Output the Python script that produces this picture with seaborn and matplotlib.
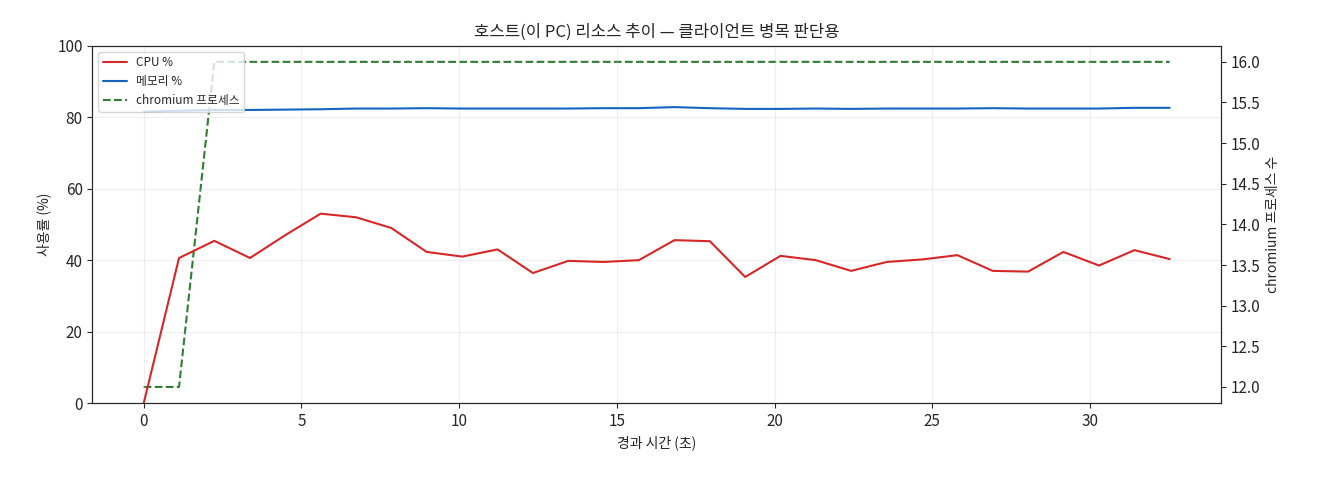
import numpy as np
import matplotlib
matplotlib.use("Agg")
import matplotlib.pyplot as plt
import seaborn as sns
import pandas as pd

sns.set_style("ticks")
plt.rcParams['font.family'] = ['Noto Sans CJK KR', 'DejaVu Sans']
plt.rcParams['axes.unicode_minus'] = False
plt.rcParams['font.size'] = 11

t = [0, 1.12, 2.24, 3.37, 4.49, 5.61, 6.73, 7.85, 8.97, 10.1, 11.22, 12.34, 13.46, 14.58, 15.7,
     16.83, 17.95, 19.07, 20.19, 21.31, 22.43, 23.56, 24.68, 25.8, 26.92, 28.04, 29.16, 30.29, 31.41, 32.53]
cpu = [0, 40.6, 45.4, 40.6, 47, 53, 52, 49, 42.3, 41, 43, 36.4, 39.8, 39.5, 40, 45.6, 45.3, 35.3,
       41.2, 40, 37, 39.5, 40.2, 41.4, 37, 36.8, 42.3, 38.5, 42.8, 40.3]
mem = [81.5, 81.8, 82.0, 82.0, 82.1, 82.2, 82.4, 82.4, 82.5, 82.4, 82.4, 82.4, 82.4, 82.5, 82.5,
       82.8, 82.5, 82.3, 82.3, 82.4, 82.3, 82.4, 82.4, 82.4, 82.5, 82.4, 82.4, 82.4, 82.6, 82.6]
chrom = [12, 12, 16, 16, 16, 16, 16, 16, 16, 16, 16, 16, 16, 16, 16, 16, 16, 16, 16, 16, 16, 16,
         16, 16, 16, 16, 16, 16, 16, 16]

df = pd.DataFrame({"t": t, "cpu": cpu, "mem": mem, "chrom": chrom})

fig, ax = plt.subplots(figsize=(13.2, 4.8), dpi=100)
sns.lineplot(data=df, x="t", y="cpu", ax=ax, color="#d62728", label="CPU %", lw=1.5)
sns.lineplot(data=df, x="t", y="mem", ax=ax, color="#1565c0", label="메모리 %", lw=1.5)
ax.set_ylim(0, 100)
ax.grid(True, alpha=0.3)
ax.set_xlabel("경과 시간 (초)", fontsize=10)
ax.set_ylabel("사용률 (%)", fontsize=10)
ax.set_title("호스트(이 PC) 리소스 추이 — 클라이언트 병목 판단용", fontsize=12)
ax2 = ax.twinx()
sns.lineplot(data=df, x="t", y="chrom", ax=ax2, color="#2e7d32", ls="--", label="chromium 프로세스", lw=1.5)
ax2.set_ylabel("chromium 프로세스 수", fontsize=10)
h1, l1 = ax.get_legend_handles_labels()
h2, l2 = ax2.get_legend_handles_labels()
ax2.get_legend().remove()
ax.get_legend().remove()
ax.legend(h1 + h2, l1 + l2, loc="upper left", fontsize=8.5)
ax.set_zorder(ax2.get_zorder() + 1)
ax.patch.set_visible(False)
fig.subplots_adjust(left=0.07, right=0.925, top=0.905, bottom=0.16)
fig.savefig("out.png")
